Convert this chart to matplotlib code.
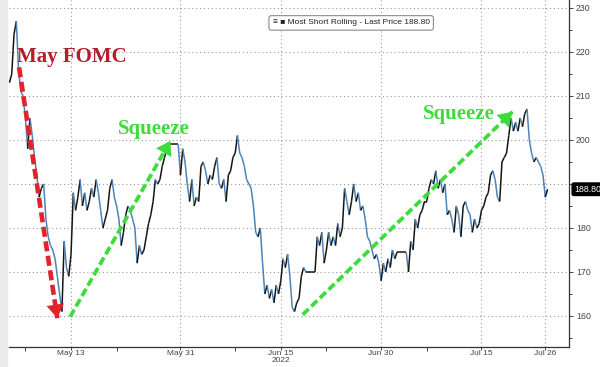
import matplotlib
matplotlib.use("Agg")
import matplotlib.pyplot as plt
import numpy as np
import pandas as pd
from matplotlib.collections import LineCollection
from matplotlib.patches import Rectangle

# weekdays shown on the chart (holidays are kept, they show up as flat lines)
session_dates = pd.bdate_range("2022-05-04", "2022-07-26")

# intraday prices, roughly four readings per session
session_prices = [
    [213, 215, 224],            # May 4 (after FOMC)
    [227, 216, 211, 210],
    [205, 198, 205, 201],
    [196, 192, 187, 189],
    [190, 182, 178, 176],
    [175, 173, 169, 165],
    [161, 177, 171, 169],
    [174, 188, 184, 187],       # May 13
    [191, 185, 188, 184],
    [186, 189, 187, 191],
    [188, 184, 180, 182],
    [184, 189, 191, 187],
    [185, 182, 176, 179],
    [183, 185, 184, 182],
    [180, 172, 176, 174],
    [175, 178, 181, 183],
    [186, 191, 190, 191],
    [194, 196, 198, 199],
    [199, 199, 199, 199],       # May 30 holiday
    [192, 198, 195, 190],
    [186, 191, 185, 187],
    [186, 194, 195, 193],
    [190, 192, 191, 194],
    [196, 190, 189, 191],
    [186, 192, 193, 196],
    [197, 201, 197, 196],
    [194, 191, 190, 189],
    [185, 179, 178, 180],
    [172, 165, 167, 164],
    [166, 163, 167, 165],
    [168, 173, 171, 174],       # Jun 15
    [169, 162, 161, 163],
    [164, 169, 171, 170],
    [170, 170, 170, 170],       # Jun 20 holiday
    [178, 176, 179, 172],
    [175, 179, 176, 178],
    [176, 181, 178, 180],
    [189, 186, 183, 186],
    [190, 186, 188, 184],
    [185, 182, 178, 177],
    [175, 173, 174, 172],
    [168, 172, 170, 173],       # Jun 30
    [171, 175, 173, 174.5],
    [174.5, 174.5, 174.5, 174.5],  # Jul 4 holiday
    [170, 177, 175, 182],
    [180, 183, 184, 186],
    [186, 189, 191, 190],
    [193, 189, 191, 188],
    [190, 183, 184, 182],
    [179, 185, 183, 178],
    [185, 186, 184, 183],
    [179, 182, 180, 181],
    [184, 185, 187, 188],       # Jul 15
    [192, 193, 191, 187],
    [186, 195, 196, 197],
    [201, 205, 202, 204],
    [202, 205, 203, 206],
    [207, 200, 197, 195],
    [196, 195, 194, 192],
    [187, 188.8],               # Jul 26
]
last_price = 188.80

tick_dates = ["2022-05-13", "2022-05-31", "2022-06-15", "2022-06-30", "2022-07-15", "2022-07-26"]
tick_labels = ["May 13", "May 31", "Jun 15\n2022", "Jun 30", "Jul 15", "Jul 26"]
minor_dates = ["2022-05-06", "2022-05-20", "2022-06-08", "2022-06-22", "2022-07-07"]
y_ticks = [160, 170, 180, 190, 200, 210, 220, 230]
# the 190 label sits behind the last-price tag
y_labels = ["160", "170", "180", "", "200", "210", "220", "230"]

xs, ys = [], []
for day, prices in enumerate(session_prices):
    start = 4 - len(prices) if day == 0 else 0
    for k, p in enumerate(prices):
        xs.append(day + (start + k) / 4)
        ys.append(p)
xs = np.array(xs)
ys = np.array(ys)


def pos(d):
    return session_dates.get_loc(pd.Timestamp(d))


fig = plt.figure(figsize=(6, 3.67), dpi=100)
fig.patches.append(Rectangle((0, 0), 7 / 600, 1, transform=fig.transFigure,
                             color="#ececec", zorder=0))
ax = fig.add_axes([9 / 600, 20 / 367, 560 / 600, 347 / 367])

# up moves dark, down moves blue
pts = np.column_stack([xs, ys]).reshape(-1, 1, 2)
segs = np.concatenate([pts[:-1], pts[1:]], axis=1)
cols = ["#151515" if b >= a else "#4f82b6" for a, b in zip(ys[:-1], ys[1:])]
ax.add_collection(LineCollection(segs, colors=cols, linewidths=1.1, zorder=3))

ax.set_xlim(0.2, 61.6)
ax.set_ylim(152.95, 231.8)

ax.set_xticks([pos(d) for d in tick_dates])
ax.set_xticklabels(tick_labels, linespacing=0.85)
ax.set_xticks([pos(d) for d in minor_dates], minor=True)
ax.set_yticks(y_ticks)
ax.set_yticklabels(y_labels)
ax.set_yticks(np.arange(155, 231, 5), minor=True)
ax.yaxis.tick_right()

for s in ["left", "top"]:
    ax.spines[s].set_visible(False)
for s in ["right", "bottom"]:
    ax.spines[s].set_color("#333333")
    ax.spines[s].set_linewidth(0.9)

ax.tick_params(axis="both", which="both", direction="out", colors="#444444",
               labelsize=6.3, width=0.7)
ax.tick_params(axis="y", which="major", length=3, pad=2)
ax.tick_params(axis="y", which="minor", length=2)
ax.tick_params(axis="x", which="major", length=2.5, pad=0, labelsize=6.0)
ax.tick_params(axis="x", which="minor", length=3)
for lab in ax.get_xticklabels() + ax.get_yticklabels():
    lab.set_family("Liberation Sans")

ax.grid(True, which="major", linestyle=(0, (1, 2.5)), color="#9a9a9a", linewidth=0.8)
ax.set_axisbelow(True)

red = "#e3232c"
green = "#3ddc3d"


def dashed_arrow(start, tip, color, lw):
    ax.plot([start[0], tip[0]], [start[1], tip[1]], color=color, lw=lw,
            linestyle=(0, (2.2, 1.0)), solid_capstyle="butt", zorder=5)
    back = (tip[0] - (tip[0] - start[0]) * 0.08, tip[1] - (tip[1] - start[1]) * 0.08)
    ax.annotate("", xy=tip, xytext=back,
                arrowprops=dict(arrowstyle="-|>,head_length=0.7,head_width=0.45",
                                color=color, lw=0, shrinkA=0, shrinkB=0,
                                mutation_scale=14), zorder=6)


dashed_arrow((1.3, 216.5), (5.5, 159.5), red, 3.3)
dashed_arrow((6.9, 159.8), (17.9, 199.8), green, 2.7)
dashed_arrow((32.4, 160.3), (55.4, 206.4), green, 2.7)

ax.text(1.1, 218.9, "May FOMC", color="#b31d2c", fontsize=15, fontweight="bold",
        family="Liberation Serif", ha="left", va="center", zorder=7)
ax.text(16.1, 202.6, "Squeeze", color=green, fontsize=15, fontweight="bold",
        family="Liberation Serif", ha="center", va="center", zorder=7)
ax.text(49.5, 206.0, "Squeeze", color=green, fontsize=15, fontweight="bold",
        family="Liberation Serif", ha="center", va="center", zorder=7)

ax.text(0.611, 0.934, "\u2261 \u25a0 Most Short Rolling - Last Price %.2f" % last_price,
        transform=ax.transAxes, ha="center", va="center", fontsize=6.0,
        family=["Liberation Sans", "DejaVu Sans"], color="#222222",
        bbox=dict(boxstyle="round,pad=0.45,rounding_size=0.3", fc="white",
                  ec="#8a8a8a", lw=0.8), zorder=8)

ax.annotate("%.2f" % last_price, xy=(1.0, last_price),
            xycoords=("axes fraction", "data"), xytext=(3.5, 0),
            textcoords="offset points", ha="left", va="center", fontsize=6.3,
            family="Liberation Sans", color="white", annotation_clip=False,
            bbox=dict(boxstyle="round,pad=0.2", fc="black", ec="black"), zorder=9)

fig.savefig("out.png", dpi=100, facecolor="white")
